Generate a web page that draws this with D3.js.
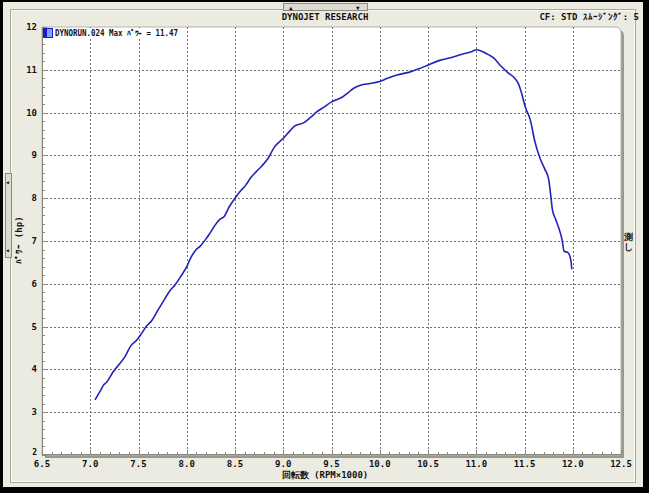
<!DOCTYPE html>
<html><head><meta charset="utf-8">
<script src="https://cdn.jsdelivr.net/npm/d3@7"></script>
<style>
html,body{margin:0;padding:0;background:#000;}
svg{display:block;}
text{font-family:"DejaVu Sans Mono","Liberation Mono",monospace;font-weight:bold;fill:#111;}
</style></head>
<body>
<script>
// ---- data ----
const rpm = [7.05,7.10,7.14,7.17,7.24,7.30,7.36,7.42,7.48,7.52,7.58,7.64,7.70,7.76,7.82,7.88,7.94,8.00,8.04,8.09,8.14,8.19,8.24,8.29,8.34,8.39,8.44,8.50,8.55,8.61,8.66,8.72,8.78,8.84,8.91,9.00,9.06,9.12,9.21,9.28,9.35,9.43,9.50,9.55,9.61,9.67,9.73,9.80,9.90,9.99,10.08,10.18,10.30,10.40,10.49,10.62,10.73,10.80,10.88,10.95,11.00,11.05,11.12,11.18,11.25,11.33,11.40,11.44,11.47,11.51,11.56,11.61,11.66,11.71,11.75,11.77,11.79,11.82,11.85,11.89,11.91,11.95,11.98,11.99];
const power = [3.29,3.48,3.64,3.70,3.95,4.12,4.30,4.55,4.68,4.80,5.00,5.15,5.38,5.60,5.82,5.98,6.18,6.40,6.60,6.78,6.88,7.02,7.18,7.36,7.50,7.58,7.80,8.00,8.15,8.30,8.47,8.62,8.76,8.92,9.20,9.40,9.55,9.69,9.76,9.88,10.02,10.14,10.25,10.30,10.36,10.46,10.57,10.64,10.68,10.72,10.80,10.88,10.94,11.02,11.10,11.22,11.28,11.33,11.38,11.42,11.47,11.44,11.36,11.28,11.10,10.93,10.80,10.66,10.45,10.12,9.83,9.30,8.94,8.68,8.45,8.10,7.72,7.52,7.34,7.02,6.76,6.73,6.56,6.34];
const xTicks = [6.5,7.0,7.5,8.0,8.5,9.0,9.5,10.0,10.5,11.0,11.5,12.0,12.5];
const yTicks = [2,3,4,5,6,7,8,9,10,11,12];
const title = "DYNOJET  RESEARCH";
const infoText = "CF: STD  ｽﾑｰｼﾞﾝｸﾞ: 5";
const legendText = "DYNORUN.024 Max ﾊﾟﾜｰ = 11.47";
const xLabel = "回転数 (RPM×1000)";
const yLabel = "ﾊﾟﾜｰ (hp)";

const W = 649, H = 493;
const svg = d3.select("body").append("svg").attr("width", W).attr("height", H);

// window background
svg.append("rect").attr("x",0).attr("y",0).attr("width",W).attr("height",H).attr("fill","#000");
svg.append("rect").attr("x",3).attr("y",2).attr("width",640).attr("height",485).attr("fill","#ecebe2");
// inner 3D panel frame
svg.append("rect").attr("x",10.5).attr("y",9.5).attr("width",625).attr("height",473).attr("fill","none").attr("stroke","#a8a79e");
svg.append("rect").attr("x",11.5).attr("y",10.5).attr("width",623).attr("height",471).attr("fill","none").attr("stroke","#fbfbf6");

// scroll widgets
svg.append("rect").attr("x",283.5).attr("y",3.5).attr("width",84).attr("height",7).attr("fill","#dcdbd2").attr("stroke","#8a8980");
svg.append("text").attr("x",289).attr("y",10).attr("font-size",6).text("▲");
svg.append("text").attr("x",356).attr("y",10).attr("font-size",6).text("▼");
svg.append("rect").attr("x",5.5).attr("y",173.5).attr("width",6).attr("height",84).attr("fill","#dcdbd2").attr("stroke","#8a8980");
svg.append("text").attr("x",6).attr("y",184).attr("font-size",5).text("◀");
svg.append("text").attr("x",6).attr("y",252).attr("font-size",5).text("◀");

// scales
const x = d3.scaleLinear().domain([6.5,12.5]).range([42,621]);
const y = d3.scaleLinear().domain([2,12]).range([455,27]);

// plot area with shadow
const px0 = x(6.5), px1 = x(12.5), py0 = y(12), py1 = y(2);
const r = 6;
function roundedTR(ox, oy){
  return `M${px0+ox},${py0+oy} L${px1+ox-r},${py0+oy} Q${px1+ox},${py0+oy} ${px1+ox},${py0+oy+r} L${px1+ox},${py1+oy} L${px0+ox},${py1+oy} Z`;
}
svg.append("path").attr("d",roundedTR(3,3)).attr("fill","#9a9990");
svg.append("path").attr("d",roundedTR(0,0)).attr("fill","#fff").attr("stroke","#b5b4ab");

// grid
const grid = svg.append("g");
grid.selectAll("line.vx").data(xTicks.filter(d=>d>6.5 && d<12.5)).join("line")
  .attr("x1",d=>Math.round(x(d))+0.5).attr("x2",d=>Math.round(x(d))+0.5)
  .attr("y1",py0).attr("y2",py1)
  .attr("stroke","#707070").attr("stroke-width",1).attr("stroke-dasharray","2,2");
grid.selectAll("line.hy").data(yTicks.filter(d=>d>2 && d<12)).join("line")
  .attr("x1",px0).attr("x2",px1)
  .attr("y1",d=>Math.round(y(d))+0.5).attr("y2",d=>Math.round(y(d))+0.5)
  .attr("stroke","#707070").attr("stroke-width",1).attr("stroke-dasharray","2,2");

// minor ticks
const xMinor = d3.range(6.5, 12.5001, 0.1);
svg.append("g").selectAll("line").data(xMinor).join("line")
  .attr("x1",d=>Math.round(x(d))+0.5).attr("x2",d=>Math.round(x(d))+0.5)
  .attr("y1",py1).attr("y2",(d,i)=> i%5===0 ? py1-5 : py1-3)
  .attr("stroke","#8a8980");
const yMinor = d3.range(2, 12.0001, 0.2);
svg.append("g").selectAll("line").data(yMinor).join("line")
  .attr("x1",px0).attr("x2",(d,i)=> i%5===0 ? px0+5 : px0+3)
  .attr("y1",d=>Math.round(y(d))+0.5).attr("y2",d=>Math.round(y(d))+0.5)
  .attr("stroke","#8a8980");
// axis lines
svg.append("line").attr("x1",px0+0.5).attr("x2",px0+0.5).attr("y1",py0).attr("y2",py1).attr("stroke","#8a8980");
svg.append("line").attr("x1",px0).attr("x2",px1).attr("y1",py1-0.5).attr("y2",py1-0.5).attr("stroke","#8a8980");

// tick labels
svg.append("g").selectAll("text").data(xTicks).join("text")
  .attr("x",d=>x(d)).attr("y",467).attr("text-anchor","middle").attr("font-size",9)
  .text(d=>d.toFixed(1));
svg.append("g").selectAll("text").data(yTicks).join("text")
  .attr("x",37).attr("y",d=> d===2 ? y(d) : y(d)+3).attr("text-anchor","end").attr("font-size",d=> d===2 ? 8 : 9)
  .text(d=>d);

// curve
const pts = rpm.map((d,i)=>[d,power[i]]);
svg.append("path").datum(pts)
  .attr("d", d3.line().x(d=>x(d[0])).y(d=>y(d[1])).curve(d3.curveMonotoneX))
  .attr("fill","none").attr("stroke","#2323b8").attr("stroke-width",1.6);

// legend
svg.append("rect").attr("x",43).attr("y",28).attr("width",137).attr("height",10).attr("fill","#fff");
svg.append("rect").attr("x",43).attr("y",28).attr("width",10).attr("height",10).attr("fill","#1a1ad0");
svg.append("rect").attr("x",47).attr("y",29).attr("width",5).attr("height",8).attr("fill","#8aa0ff");
svg.append("text").attr("x",55).attr("y",36).attr("font-size",8).attr("font-weight","normal").attr("fill","#222")
  .attr("textLength",123).attr("lengthAdjust","spacingAndGlyphs").text(legendText);

// titles
svg.append("text").attr("x",325).attr("y",20).attr("text-anchor","middle").attr("font-size",9).text(title);
svg.append("text").attr("x",639).attr("y",20).attr("text-anchor","end").attr("font-size",9).text(infoText);
svg.append("text").attr("x",325).attr("y",478).attr("text-anchor","middle").attr("font-size",9).text(xLabel);
svg.append("text").attr("transform","translate(22,240) rotate(-90)").attr("text-anchor","middle").attr("font-size",9).text(yLabel);
svg.append("text").attr("x",628).attr("y",240).attr("text-anchor","middle").attr("font-size",9).text("測");
svg.append("text").attr("x",628).attr("y",250).attr("text-anchor","middle").attr("font-size",9).text("し");
</script>
</body></html>
